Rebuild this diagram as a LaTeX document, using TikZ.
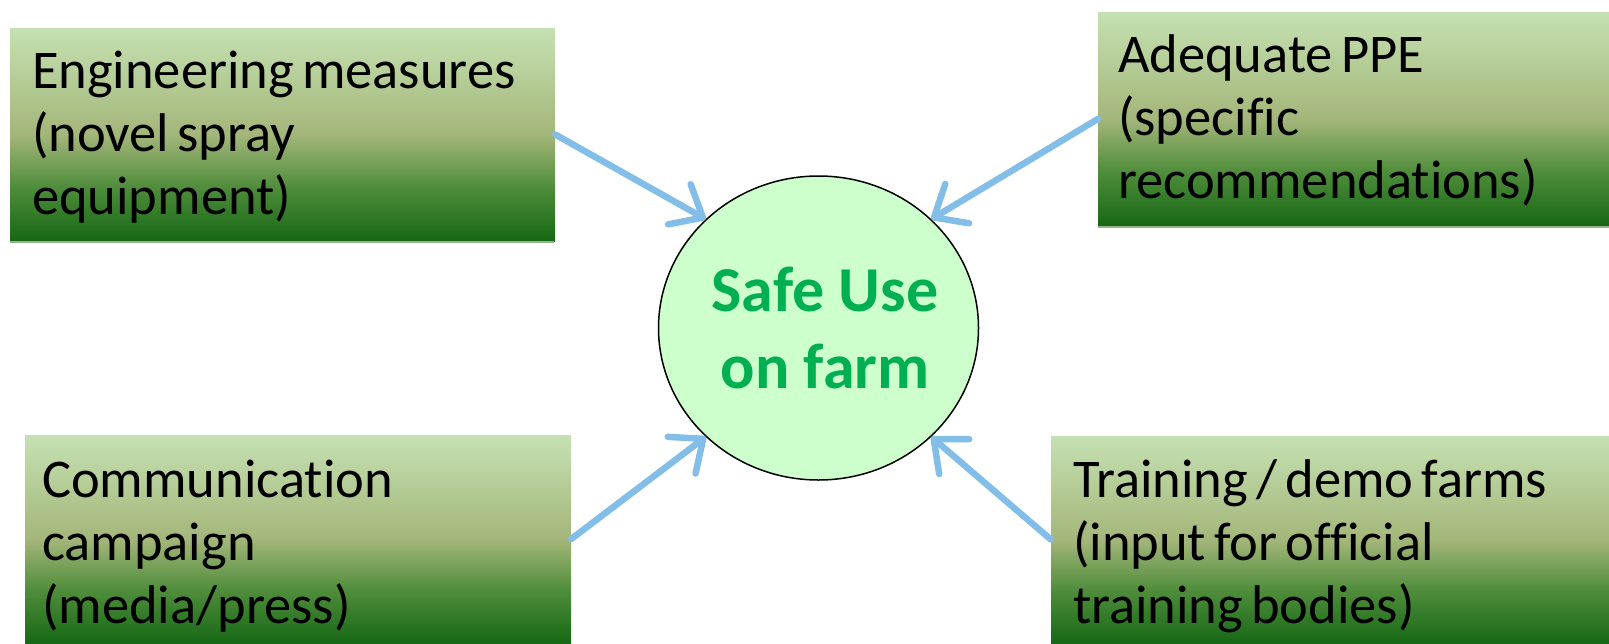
\documentclass[tikz,border=0pt]{standalone}
\usepackage{fontspec}
\setmainfont{Carlito}[Ligatures=NoCommon]
\usetikzlibrary{arrows.meta,shapes.geometric}
\definecolor{arrowblue}{RGB}{131,190,232}
\definecolor{boxtop}{RGB}{197,225,178}
\definecolor{boxmid}{RGB}{164,182,122}
\definecolor{boxlow}{RGB}{78,140,58}
\definecolor{boxbot}{RGB}{22,104,22}
\definecolor{boxedge}{RGB}{150,180,140}
\definecolor{circfill}{RGB}{204,255,204}
\definecolor{safegreen}{RGB}{0,176,80}
\pgfdeclareverticalshading{boxgrad}{100bp}{color(0bp)=(boxbot); color(25bp)=(boxbot);
  color(37.5bp)=(boxlow); color(50bp)=(boxmid); color(75bp)=(boxtop); color(100bp)=(boxtop)}
\newcommand{\myboxfontsel}{\fontsize{54.5}{63}\selectfont\spaceskip=0.15em\relax}
\tikzset{
  gbox/.style={rectangle, shading=boxgrad, inner sep=0pt},
  edgeline/.style={draw=boxedge, line width=2pt},
  boxtext/.style={anchor=west, inner sep=0pt, align=left, text=black, font=\myboxfontsel},
  hub/.style={ellipse, draw=black, line width=1.5pt, fill=circfill, inner sep=0pt,
    minimum width=320pt, minimum height=304pt},
  hubtext/.style={inner sep=0pt, align=center, text=safegreen,
    font=\bfseries\fontsize{64}{77}\selectfont},
  feed/.style={draw=arrowblue, line width=6.5pt, line cap=round,
    -{Straight Barb[length=27pt,width=46pt,round]}}
}
\begin{document}
\begin{tikzpicture}[x=1pt,y=-1pt]
\useasboundingbox (0,0) rectangle (1609,643);
\node[hub] (c) at (818.5,328) {};
\node[hubtext] (ct) at ([xshift=6.5pt]c.center) {Safe Use\\on farm};
\node[gbox, minimum width=545pt, minimum height=213pt] (b1) at (282.5,134.5) {};
\node[gbox, minimum width=511pt, minimum height=214pt] (b2) at (1353.5,119) {};
\node[gbox, minimum width=546pt, minimum height=208pt] (b3) at (298,539) {};
\node[gbox, minimum width=558pt, minimum height=207pt] (b4) at (1330,539.5) {};
\draw[edgeline] ([yshift=-1pt]b1.south west) -- ([yshift=-1pt,xshift=-1pt]b1.south east);
\draw[edgeline] ([yshift=-1pt]b2.south west) -- ([yshift=-1pt]b2.south east);
\node[boxtext] (t1) at ([xshift=22pt,yshift=-3pt]b1.west)
  {Engineering measures\\(novel spray\\equipment)};
\node[boxtext] (t2) at ([xshift=20pt,yshift=-1pt]b2.west)
  {Adequate PPE\\(specific\\recommendations)};
\node[boxtext] (t3) at ([xshift=17pt,yshift=-7pt]b3.west)
  {Communication\\campaign\\(media/press)};
\node[boxtext] (t4) at ([xshift=22pt,yshift=-7pt]b4.west)
  {Training / demo farms\\(input for official\\training bodies)};
\draw[feed] (b1.east) -- (c.136);
\draw[feed] (b2.west) -- (c.44);
\draw[feed] (b3.east) -- (c.224);
\draw[feed] (b4.west) -- (c.316);
\end{tikzpicture}
\end{document}
